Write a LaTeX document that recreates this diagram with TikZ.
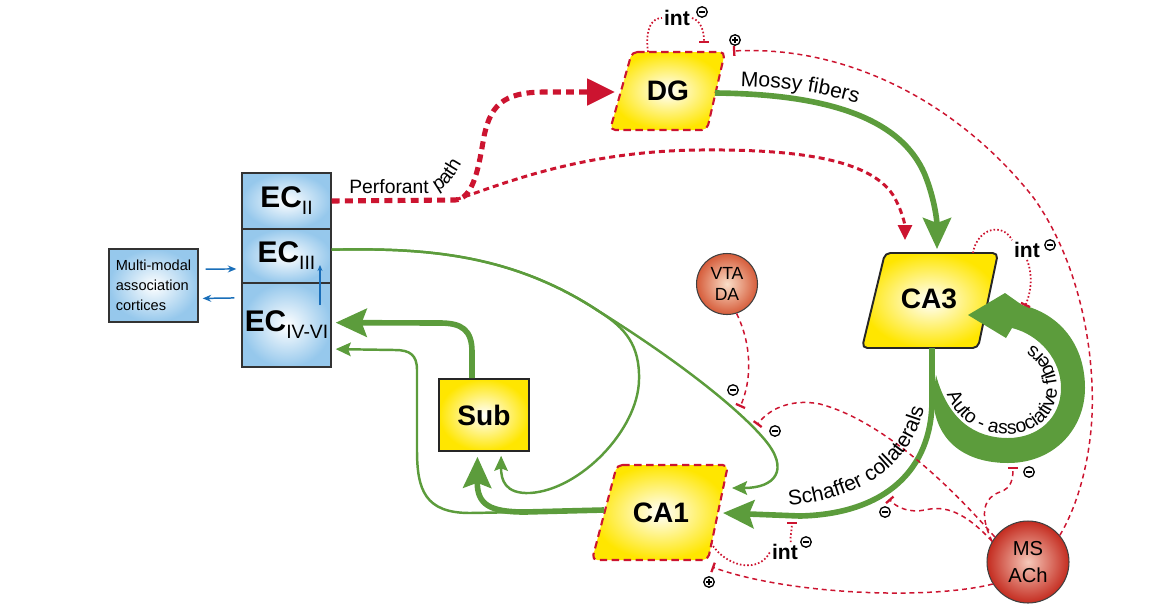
\documentclass[tikz,border=0pt]{standalone}
\usepackage{fontspec}
\setmainfont{Liberation Sans}
\usetikzlibrary{arrows.meta,decorations.text}
\definecolor{grn}{RGB}{92,156,60}
\definecolor{rd}{RGB}{204,20,48}
\definecolor{yl}{RGB}{255,230,0}
\definecolor{ecb}{RGB}{150,200,236}
\definecolor{bluearr}{RGB}{25,110,185}
\definecolor{vtaout}{RGB}{214,92,58}
\definecolor{vtain}{RGB}{250,222,200}
\definecolor{msout}{RGB}{196,44,32}
\definecolor{msin}{RGB}{246,200,185}
\newcommand{\fsz}[1]{\fontsize{#1}{#1}\selectfont}
\begin{document}
\begin{tikzpicture}[x=0.02cm,y=-0.02cm,
  ecbox/.style={rectangle, draw=black!80, line width=0.8pt, inner color=white, outer color=ecb, minimum width=1.78cm, inner sep=0pt, font=\fsz{17}\bfseries},
  mmbox/.style={rectangle, draw=black!80, line width=0.8pt, inner color=white, outer color=ecb, minimum width=1.78cm, minimum height=1.46cm, align=left, font=\fontsize{8.3}{11.3}\selectfont},
  subbox/.style={rectangle, draw=black!85, line width=0.9pt, inner color=white, outer color=yl, minimum width=1.8cm, minimum height=1.44cm, font=\fsz{16}\bfseries},
  lbl/.style={font=\fsz{16}\bfseries, inner sep=1pt},
  intlbl/.style={font=\fsz{12}\bfseries, inner sep=1pt},
  nucl/.style={circle, draw=black!75, line width=0.6pt, inner sep=0pt, align=center},
  gthick/.style={draw=grn, line width=3.2pt},
  gthin/.style={draw=grn, line width=1.4pt},
  bigtip/.style={-{Stealth[length=0.62cm,width=0.56cm,inset=0.1cm]}},
  smalltip/.style={-{Stealth[length=0.3cm,width=0.27cm,inset=0.05cm]}},
  rdash/.style={draw=rd, line width=0.85pt, dash pattern=on 2.8pt off 2.2pt},
  rdot/.style={draw=rd, line width=1pt, dash pattern=on 0.9pt off 1.2pt},
  bartip/.style={-{Bar[width=0.2cm,line width=1.3pt]}},
  perf/.style={draw=rd, line width=2.9pt, dash pattern=on 4.5pt off 3pt},
  perfthin/.style={draw=rd, line width=1.7pt, dash pattern=on 3.4pt off 2.3pt},
  blarr/.style={draw=bluearr, line width=0.85pt, -{Stealth[length=0.17cm,width=0.14cm]}},
  sgn/.style={circle, draw, line width=0.75pt, inner sep=0pt, minimum size=0.21cm},
  sgnneg/.style={sgn, path picture={\draw[line width=0.8pt] ([xshift=-0.065cm]path picture bounding box.center) -- ([xshift=0.065cm]path picture bounding box.center);}},
  sgnpos/.style={sgn, path picture={\draw[line width=0.7pt] ([xshift=-0.06cm]path picture bounding box.center) -- ([xshift=0.06cm]path picture bounding box.center) ([yshift=-0.06cm]path picture bounding box.center) -- ([yshift=0.06cm]path picture bounding box.center);}},
  pgram/.style={rounded corners=3pt}
]
\useasboundingbox (0,0) rectangle (1167,606);

% ---- parallelograms
\shade[pgram, inner color=white, outer color=yl] (632,52) -- (725,52) -- (707,130) -- (610,130) -- cycle;
\draw[pgram, draw=rd, line width=1.2pt, dash pattern=on 4.2pt off 2.6pt] (632,52) -- (725,52) -- (707,130) -- (610,130) -- cycle;
\shade[pgram, inner color=white, outer color=yl] (885,253) -- (998,253) -- (978,348) -- (862,348) -- cycle;
\draw[pgram, draw=black!85, line width=1.1pt] (885,253) -- (998,253) -- (978,348) -- (862,348) -- cycle;
\shade[pgram, inner color=white, outer color=yl] (617,465) -- (728,465) -- (708,560) -- (592,560) -- cycle;
\draw[pgram, draw=rd, line width=1.2pt, dash pattern=on 4.2pt off 2.6pt] (617,465) -- (728,465) -- (708,560) -- (592,560) -- cycle;

% ---- nodes
\node[ecbox, minimum height=1.12cm] (ec2) at (286.5,201) {EC\raisebox{-4pt}{\fsz{11}\mdseries II}};
\node[ecbox, minimum height=1.08cm] (ec3) at (286.5,256) {EC\raisebox{-4pt}{\fsz{11}\mdseries III}};
\node[ecbox, minimum height=1.68cm] (ec4) at (286.5,325) {EC\raisebox{-4pt}{\fsz{11}\mdseries IV-VI}};
\node[mmbox] (MM) at (153.5,285.5) {Multi-modal\\association\\cortices};
\node[subbox] (Sub) at (484,415) {Sub};
\node[lbl] (DG) at (668,91) {DG};
\node[lbl] (CA3) at (929,299) {CA3};
\node[lbl] (CA1) at (661,513) {CA1};
\node[nucl, minimum size=1.22cm, inner color=vtain, outer color=vtaout, font=\fontsize{10}{12}\selectfont] (VTA) at (727,284) {VTA\\DA};
\node[nucl, minimum size=1.64cm, inner color=msin, outer color=msout, font=\fontsize{11.5}{15}\selectfont] (MS) at (1028,562) {MS\\ACh};
\node[intlbl] (intDG) at (677,18) {int};
\node[intlbl] (intCA3) at (1027,250) {int};
\node[intlbl] (intCA1) at (785,552) {int};

% ---- named points on shapes and lines
\coordinate (DGw) at (615,92);
\coordinate (DGe) at (715,93);
\coordinate (DGt) at (648,52);
\coordinate (DGbarA) at (704,43);
\coordinate (DGbarB) at (733,51);
\coordinate (CA3n) at (937,249);
\coordinate (CA3nw) at (905,240);
\coordinate (CA3s) at (932,348);
\coordinate (CA3t) at (973,253);
\coordinate (CA3bar) at (1025,306);
\coordinate (CA1e) at (723,513);
\coordinate (CA1ne) at (732,488);
\coordinate (CA1w) at (604,510);
\coordinate (CA1split) at (525,512);
\coordinate (CA1se) at (711,543);
\coordinate (CA1bar) at (712,567);
\coordinate (Schbar) at (889,499);
\coordinate (SchbarInt) at (792,522);
\coordinate (barVTA) at (740,407);
\coordinate (barMS) at (757,425);
\coordinate (AAbar) at (1013,467);
\coordinate (Pjoin) at (455,200);
\coordinate (bvA) at (320,305);
\coordinate (bvB) at (320,265);

% ---- perforant path
\draw[perf, -{Triangle[length=0.56cm,width=0.52cm]}] (ec2.east) -- (Pjoin) .. controls (472,199) and (478,172) .. (483,142) .. controls (489,106) and (502,92) .. (545,92) -- (DGw);
\draw[perfthin, -{Triangle[length=0.3cm,width=0.28cm]}] (Pjoin) .. controls (500,185) and (580,151) .. (700,150) .. controls (800,149) and (870,160) .. (893,195) .. controls (902,210) and (905,225) .. (CA3nw);

% ---- green pathways
\draw[gthick, bigtip] (DGe) .. controls (820,94) and (900,115) .. (925,175) .. controls (935,200) and (937,222) .. (CA3n);
\fill[grn] (933,398) .. controls (935,442) and (966,463) .. (1008,463) .. controls (1055,463) and (1085,428) .. (1085,388) .. controls (1085,345) and (1060,314) .. (1022,305) -- (1005,293) -- (968,315) -- (1006,338) -- (1012,328) .. controls (1040,335) and (1061,360) .. (1061,388) .. controls (1061,418) and (1038,438) .. (1008,438) .. controls (975,438) and (948,420) .. (936,375) -- cycle;
\draw[gthick, bigtip] (CA3s) -- (932,400) .. controls (932,470) and (885,514) .. (800,516) -- (CA1e);
\draw[gthick, bigtip, shorten >=0.08cm] (Sub.108) -- (472,352) .. controls (472,330) and (462,323) .. (440,323) -- (ec4.3);
\draw[gthick, bigtip, shorten >=0.1cm] (CA1w) -- (CA1split) .. controls (490,512) and (477,505) .. (Sub.-100);
\draw[gthin, smalltip, shorten >=0.08cm] (CA1split) -- (470,513) .. controls (425,513) and (417,490) .. (417,450) -- (417,370) .. controls (417,355) and (410,350) .. (395,350) -- (ec4.-28);
\draw[gthin, smalltip] (ec3.8) .. controls (420,248) and (510,252) .. (600,312) .. controls (680,362) and (740,410) .. (765,440) .. controls (790,470) and (775,488) .. (CA1ne);
\draw[gthin, smalltip, shorten >=0.08cm] (ec3.8) .. controls (420,248) and (510,252) .. (600,312) .. controls (625,328) and (640,345) .. (639,380) .. controls (638,430) and (580,490) .. (530,493) .. controls (505,494) and (501,480) .. (Sub.-65);

% ---- blue arrows
\draw[blarr, shorten <=0.14cm, shorten >=0.1cm] (MM.20) -- (ec3.196);
\draw[blarr, shorten <=0.14cm, shorten >=0.08cm] (ec4.149) -- (MM.-16);
\draw[draw=bluearr, line width=0.6pt, -{Stealth[length=0.12cm,width=0.1cm]}] (bvA) -- (bvB);

% ---- red modulatory connections
\draw[rdot] (DGt) .. controls (645,28) and (652,18) .. (intDG.west);
\draw[rdot, bartip] (intDG.east) .. controls (699,20) and (704,28) .. (DGbarA);
\draw[rdash, bartip] (MS.40) .. controls (1078,505) and (1090,460) .. (1092,415) .. controls (1095,340) and (1075,255) .. (1033,197) .. controls (960,105) and (850,45) .. (DGbarB);
\draw[rdot] (CA3t) .. controls (977,228) and (1003,222) .. (intCA3.north west);
\draw[rdot, bartip] (intCA3.south) .. controls (1033,275) and (1031,293) .. (CA3bar);
\draw[rdash, bartip] (VTA.-72) .. controls (752,345) and (752,380) .. (barVTA);
\draw[rdash, bartip] (MS.143) .. controls (945,480) and (880,420) .. (820,404) .. controls (790,398) and (768,410) .. (barMS);
\draw[rdash, bartip] (MS.150) .. controls (965,512) and (945,505) .. (925,510) .. controls (910,513) and (897,508) .. (Schbar);
\draw[rdash, bartip] (MS.150) .. controls (978,512) and (985,497) .. (1000,492) .. controls (1012,488) and (1013,478) .. (AAbar);
\draw[rdash, bartip] (MS.212) .. controls (930,600) and (790,595) .. (CA1bar);
\draw[rdot] (CA1se) .. controls (725,566) and (758,575) .. (intCA1.west);
\draw[rdot, bartip] (intCA1.60) .. controls (790,535) and (792,530) .. (SchbarInt);

% ---- signs
\node[sgnneg] (n1) at (702,12) {};
\node[sgnpos] (p1) at (735,40) {};
\node[sgnneg] (n2) at (1050,245) {};
\node[sgnneg] (n3) at (733,390) {};
\node[sgnneg] (n4) at (775,431) {};
\node[sgnneg] (n5) at (885,512) {};
\node[sgnneg] (n6) at (1029,472) {};
\node[sgnneg] (n7) at (806,542) {};
\node[sgnpos] (p2) at (709,582) {};

% ---- labels along paths
\path[decorate, decoration={text along path, text align=center, text={|\fsz{12}|Mossy fibers}}] (738,86) .. controls (780,87) and (820,92) .. (860,104);
\node[font=\fsz{11}, anchor=base west, inner sep=0pt] (perfl) at (349,193) {Perforant};
\path[decorate, decoration={text along path, text align=left, text={|\fsz{11}|path}}] (437,191) .. controls (447,188) and (456,176) .. (474,140);
\path[decorate, decoration={text along path, text align=center, text={|\fsz{12}|Schaffer collaterals}}] (779,506) .. controls (852,502) and (914,472) .. (926,398);
\path[decorate, decoration={text along path, text align=center, text={|\fsz{11}|Auto - associative fibers}}] (942,380) .. controls (952,420) and (978,434) .. (1008,434) .. controls (1036,434) and (1057,415) .. (1057,388) .. controls (1057,366) and (1042,346) .. (1018,339);
\end{tikzpicture}
\end{document}
